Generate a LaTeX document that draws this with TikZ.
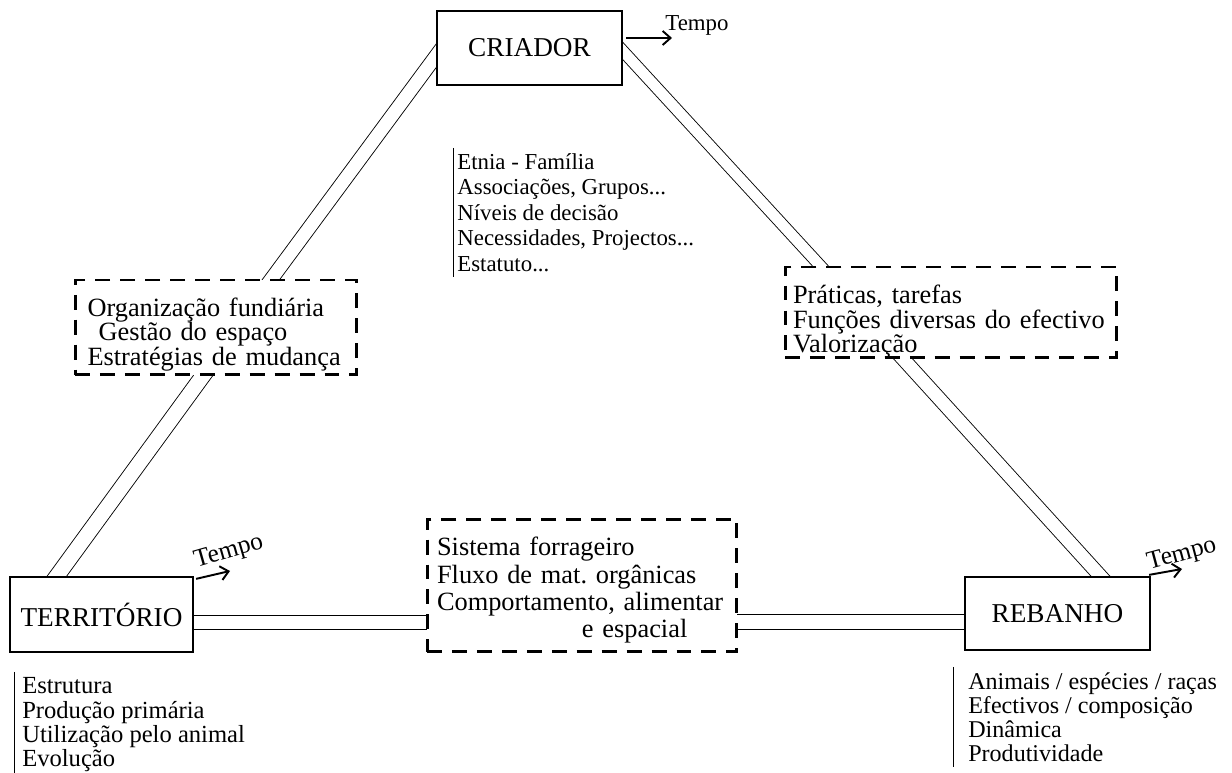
\documentclass[tikz,border=0pt]{standalone}
\usepackage{fontspec}
\setmainfont{Liberation Serif}
\frenchspacing
\usetikzlibrary{positioning}
\usetikzlibrary{calc}
\usetikzlibrary{arrows.meta}
\usetikzlibrary{backgrounds}
\tikzset{caixa/.style={draw, line width=1.3pt, fill=white, font=\fontsize{15.5}{18}\selectfont}}
\tikzset{tracej/.style={draw, line width=1.7pt, dash pattern=on 8.5pt off 5.7pt, fill=white, align=left, inner ysep=2pt, font=\fontsize{15}{14}\selectfont}}
\tikzset{lista/.style={anchor=north west, align=left, inner ysep=3pt}}
\tikzset{dbl/.style={double, double distance=#1, line width=0.5pt}, dbl/.default=7.9pt}
\tikzset{seta/.style={-{Straight Barb[length=4.5pt,width=8pt]}, line width=1.1pt}}
\tikzset{tempo/.style={font=\fontsize{14.5}{16}\selectfont, inner sep=0pt}}

\begin{document}
\begin{tikzpicture}[x=0.02cm, y=-0.02cm]
\useasboundingbox (0,0) rectangle (1232,773);

% os tres polos
\node[caixa, minimum width=3.7cm, minimum height=1.48cm] (criador) at (529.5,48) {CRIADOR};
\node[caixa, minimum width=3.66cm, minimum height=1.5cm] (terr) at (101.5,614.5) {TERRITÓRIO};
\node[caixa, minimum width=3.7cm, minimum height=1.46cm] (reb) at (1057.5,613.5) {REBANHO};

% interfaces
\node[tracej, text width=5.14cm, inner xsep=0.25cm, minimum height=1.9cm, text height=14.3pt, text depth=27.3pt] (org) at (216,327.5)
  {Organização fundiária\\\hspace*{6.3pt}Gestão do espaço\\Estratégias de mudança};
\node[tracej, text width=6.32cm, inner xsep=0.16cm, minimum height=1.82cm, text height=15.9pt, text depth=25.9pt] (prat) at (951,312.5)
  {Práticas, tarefas\\Funções diversas do efectivo\\Valorização};
\node[tracej, text width=5.8cm, inner xsep=0.2cm, minimum height=2.66cm, font=\fontsize{15}{15.4}\selectfont, text height=13.1pt, text depth=46.7pt] (sist) at (582,585.5)
  {Sistema forrageiro\\Fluxo de mat. orgânicas\\Comportamento, alimentar\\\hspace*{82.5pt}e espacial};

% listas
\node[lista, inner xsep=2.3pt, font=\fontsize{13}{14.5}\selectfont] (lcri) at (453,148)
  {Etnia - Família\\Associações, Grupos...\\Níveis de decisão\\Necessidades, Projectos...\\Estatuto...};
\draw[thin] (lcri.north west) -- (lcri.south west);
\node[lista, inner xsep=4.5pt, font=\fontsize{14}{13.9}\selectfont] (lter) at (14,672)
  {Estrutura\\Produção primária\\Utilização pelo animal\\Evolução};
\draw[thin] (lter.north west) -- (lter.south west);
\node[lista, inner xsep=8.5pt, font=\fontsize{13.7}{13.7}\selectfont] (lreb) at (953,667)
  {Animais / espécies / raças\\Efectivos / composição\\Dinâmica\\Produtividade};
\draw[thin] (lreb.north west) -- (lreb.south west);

% ligacoes duplas
\begin{scope}[on background layer]
\draw[dbl=7.4pt] ([shift={(10.9,-6.6)}]criador.west) -- ([shift={(46.1,13.1)}]org.north);
\draw[dbl=8.4pt] ([shift={(-1.8,-16.2)}]org.south) -- ([shift={(-56.2,16.2)}]terr.north);
\draw[dbl=6.1pt] ([shift={(-11.5,-9.2)}]criador.east) -- ([shift={(-117.5,14.7)}]prat.north);
\draw[dbl=7.4pt] ([shift={(-60.9,-14.9)}]prat.south) -- ([shift={(54.4,12.9)}]reb.north);
\draw[dbl=7.9pt] ([shift={(-15,8)}]terr.east) -- ([shift={(15,37)}]sist.west);
\draw[dbl=8.4pt] ([shift={(-15,36.5)}]sist.east) -- ([shift={(15,8.5)}]reb.west);
\end{scope}

% tempo
\coordinate (tcri) at (672,38);
\coordinate (tter) at (230,571);
\coordinate (treb) at (1182,569);
\draw[seta] ([shift={(3,-10)}]criador.east) -- (tcri);
\draw[seta] ([shift={(2,3)}]terr.north east) -- (tter);
\draw[seta] ([shift={(-2,-1)}]reb.north east) -- (treb);
\node[tempo, font=\fontsize{13}{15}\selectfont] (ncri) at (697,25) {Tempo};
\node[tempo, rotate=16] (nter) at (229,552) {Tempo};
\node[tempo, rotate=15] (nreb) at (1182,555) {Tempo};
\end{tikzpicture}
\end{document}
